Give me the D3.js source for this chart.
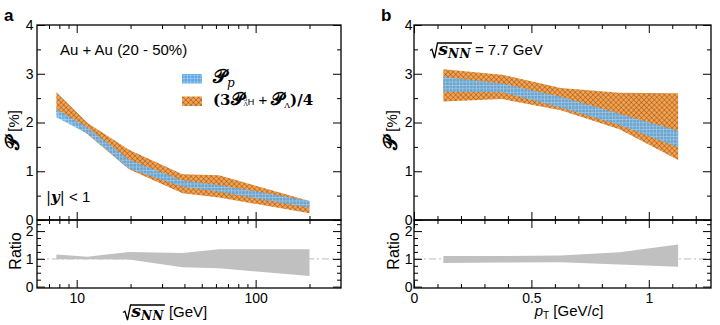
<!DOCTYPE html>
<html>
<head>
<meta charset="utf-8">
<title>Polarization vs energy and pT</title>
<script src="https://cdn.jsdelivr.net/npm/d3@7"></script>
<style>
  body { margin: 0; background: #fff; }
  svg text { font-family: "Liberation Sans", Arial, sans-serif; }
</style>
</head>
<body>
<div id="chart"></div>
<script>
var width = 720, height = 325;

// panel a : vs collision energy (GeV)
var energies  = [7.7, 11.5, 19.6, 39, 62.4, 200];
var protonLoA = [2.11, 1.77, 1.05, 0.68, 0.58, 0.25];
var protonHiA = [2.28, 1.90, 1.24, 0.81, 0.72, 0.39];
var lightLoA  = [2.22, 1.76, 1.04, 0.55, 0.46, 0.14];
var lightHiA  = [2.62, 1.99, 1.44, 0.94, 0.92, 0.39];
var ratioLoA  = [0.99, 0.99, 0.98, 0.70, 0.66, 0.38];
var ratioHiA  = [1.16, 1.08, 1.25, 1.21, 1.35, 1.35];

// panel b : vs pT (GeV/c) at 7.7 GeV
var ptBins    = [0.125, 0.375, 0.625, 0.875, 1.125];
var protonLoB = [2.63, 2.62, 2.31, 1.95, 1.49];
var protonHiB = [2.94, 2.80, 2.53, 2.18, 1.83];
var lightLoB  = [2.43, 2.48, 2.25, 1.86, 1.23];
var lightHiB  = [3.09, 2.98, 2.71, 2.61, 2.60];
var ratioLoB  = [0.85, 0.87, 0.88, 0.80, 0.72];
var ratioHiB  = [1.10, 1.10, 1.12, 1.24, 1.52];

// tick labels
var yTicksTop   = [0, 1, 2, 3, 4];
var yMinorTop   = [0.5, 1.5, 2.5, 3.5];
var yTicksRatio = [0, 1, 2];
var yMinorRatio = [0.25, 0.5, 0.75, 1.25, 1.5, 1.75, 2.25];
var xTicksA     = [10, 100];
var xMinorA     = [7, 8, 9, 20, 30, 40, 50, 60, 70, 80, 90, 200];
var xTicksB     = [0, 0.5, 1];
var xMinorB     = [0.1, 0.2, 0.3, 0.4, 0.6, 0.7, 0.8, 0.9, 1.1, 1.2];

var mathFont = "'DejaVu Serif', 'Liberation Serif', serif";
var sansFont = "'Liberation Sans', Arial, sans-serif";
var top0 = 25, split = 220, bottom0 = 288;

var svg = d3.select("#chart").append("svg")
    .attr("width", width)
    .attr("height", height);

// fill patterns
var defs = svg.append("defs");
var pb = defs.append("pattern")
    .attr("id", "gridBlue")
    .attr("patternUnits", "userSpaceOnUse")
    .attr("width", 3.4).attr("height", 3.4);
pb.append("rect").attr("width", 3.4).attr("height", 3.4).attr("fill", "#5ba7e2");
pb.append("path").attr("d", "M0,0.35H3.4M0.35,0V3.4")
    .attr("stroke", "#a8d2f2").attr("stroke-width", 0.7);

var po = defs.append("pattern")
    .attr("id", "hatchOrange")
    .attr("patternUnits", "userSpaceOnUse")
    .attr("width", 3.6).attr("height", 3.6)
    .attr("patternTransform", "rotate(45)");
po.append("rect").attr("width", 3.6).attr("height", 3.6).attr("fill", "#f8a24c");
po.append("path").attr("d", "M0,0.25H3.6M0.25,0V3.6")
    .attr("stroke", "#5a3416").attr("stroke-width", 0.45);

var yTop = d3.scaleLinear().domain([0, 4]).range([split, top0]);
var yRatio = d3.scaleLinear().domain([-0.05, 2.4]).range([bottom0, split]);

function band(xScale, xs, lo, hi, yScale) {
  return d3.area()
    .x(function(i) { return xScale(xs[i]); })
    .y0(function(i) { return yScale(lo[i]); })
    .y1(function(i) { return yScale(hi[i]); })(d3.range(xs.length));
}

function edge(g, axisFn, scale, vals, len, tx, ty, fmt, pad) {
  var a = axisFn(scale).tickValues(vals).tickSize(-len).tickPadding(pad || 3)
      .tickFormat(fmt ? fmt : "");
  var s = g.append("g").attr("transform", "translate(" + tx + "," + ty + ")").call(a);
  s.select(".domain").remove();
  s.selectAll("line").attr("stroke", "#000").attr("stroke-width", 1);
  s.attr("font-family", null).attr("font-size", null);
  s.selectAll("text").attr("fill", "#000").style("font-size", "14px");
  return s;
}

function drawPanel(p) {
  var g = svg.append("g");
  var x = p.x;
  var x0 = x.range()[0], x1 = x.range()[1];

  // bands
  g.append("path").attr("d", band(x, p.xs, p.lightLo, p.lightHi, yTop))
    .attr("fill", "url(#hatchOrange)");
  g.append("path").attr("d", band(x, p.xs, p.protonLo, p.protonHi, yTop))
    .attr("fill", "url(#gridBlue)").attr("opacity", 0.9);

  g.append("line")
    .attr("x1", x0).attr("x2", x1)
    .attr("y1", yRatio(1)).attr("y2", yRatio(1))
    .attr("stroke", "#c8c8c8").attr("stroke-width", 1.2)
    .attr("stroke-dasharray", "7,3,2,3");
  g.append("path").attr("d", band(x, p.xs, p.ratioLo, p.ratioHi, yRatio))
    .attr("fill", "#c0c0c0");

  var fmtY = d3.format("d");
  // top panel ticks
  edge(g, d3.axisLeft, yTop, yTicksTop, 8, x0, 0, fmtY, p.ypad);
  edge(g, d3.axisLeft, yTop, yMinorTop, 4, x0, 0);
  edge(g, d3.axisRight, yTop, yTicksTop, 8, x1, 0);
  edge(g, d3.axisRight, yTop, yMinorTop, 4, x1, 0);
  edge(g, d3.axisTop, x, p.xMajor, 8, 0, top0);
  edge(g, d3.axisTop, x, p.xMinor, 4, 0, top0);
  edge(g, d3.axisBottom, x, p.xMajor, 8, 0, split);
  edge(g, d3.axisBottom, x, p.xMinor, 4, 0, split);

  // ratio panel ticks
  edge(g, d3.axisLeft, yRatio, yTicksRatio, 8, x0, 0, fmtY, p.ypad);
  edge(g, d3.axisLeft, yRatio, yMinorRatio, 4, x0, 0);
  edge(g, d3.axisRight, yRatio, yTicksRatio, 8, x1, 0);
  edge(g, d3.axisRight, yRatio, yMinorRatio, 4, x1, 0);
  edge(g, d3.axisTop, x, p.xMajor, 8, 0, split);
  edge(g, d3.axisTop, x, p.xMinor, 4, 0, split);
  edge(g, d3.axisBottom, x, p.xMajor, 8, 0, bottom0, p.xfmt, 5);
  edge(g, d3.axisBottom, x, p.xMinor, 4, 0, bottom0);

  // frames
  g.append("rect").attr("x", x0).attr("y", top0)
    .attr("width", x1 - x0).attr("height", split - top0)
    .attr("fill", "none").attr("stroke", "#000").attr("stroke-width", 1.3);
  g.append("rect").attr("x", x0).attr("y", split)
    .attr("width", x1 - x0).attr("height", bottom0 - split)
    .attr("fill", "none").attr("stroke", "#000").attr("stroke-width", 1.3);

  // y titles
  var yt = g.append("text")
    .attr("transform", "translate(" + p.ytx + "," + 130 + ") rotate(-90)")
    .attr("text-anchor", "middle")
    .style("font-size", "15px");
  yt.append("tspan").text("𝒫").style("font-family", mathFont).style("font-weight", "bold").style("font-size", "19px");
  yt.append("tspan").text(" [%]");

  g.append("text")
    .attr("transform", "translate(" + (p.ytx + 2) + "," + 251 + ") rotate(-90)")
    .attr("text-anchor", "middle")
    .style("font-size", "16px")
    .text("Ratio");

  // panel letter
  g.append("text").attr("x", p.letterX).attr("y", 21)
    .style("font-size", "17px").style("font-weight", "bold")
    .text(p.letter);
  return g;
}

// radical sign over s_NN, returns the end x
function sqrtS(parent, x, y, fs) {
  var g = parent.append("g").attr("transform", "translate(" + x + "," + y + ")");
  var t = g.append("text").attr("x", fs * 0.55)
    .style("font-family", mathFont).style("font-weight", "bold").style("font-style", "italic");
  t.append("tspan").text("s").style("font-size", (fs * 1.15) + "px");
  t.append("tspan").text("NN").attr("dy", fs * 0.22)
    .style("font-size", (fs * 0.8) + "px").style("letter-spacing", "0.5px");
  var w = t.node().getComputedTextLength();
  g.append("path")
    .attr("d", "M0," + (-fs * 0.3) + "L" + (fs * 0.13) + "," + (-fs * 0.38) +
      "L" + (fs * 0.3) + "," + (fs * 0.2) + "L" + (fs * 0.5) + "," + (-fs * 0.8) +
      "H" + (fs * 0.55 + w + 1))
    .attr("fill", "none").attr("stroke", "#000").attr("stroke-width", 1.3);
  return x + fs * 0.55 + w;
}

var xA = d3.scaleLog().domain([6, 300]).range([37, 341]);
var xB = d3.scaleLinear().domain([0, 1.265]).range([414, 711]);

drawPanel({
  x: xA, xs: energies,
  protonLo: protonLoA, protonHi: protonHiA,
  lightLo: lightLoA, lightHi: lightHiA,
  ratioLo: ratioLoA, ratioHi: ratioHiA,
  xMajor: xTicksA, xMinor: xMinorA, xfmt: d3.format("d"),
  ypad: 3.5, ytx: 19, letter: "a", letterX: 4
});
drawPanel({
  x: xB, xs: ptBins,
  protonLo: protonLoB, protonHi: protonHiB,
  lightLo: lightLoB, lightHi: lightHiB,
  ratioLo: ratioLoB, ratioHi: ratioHiB,
  xMajor: xTicksB, xMinor: xMinorB, xfmt: d3.format("~g"),
  ypad: 1.5, ytx: 397, letter: "b", letterX: 381
});

// x titles
var endA = sqrtS(svg, 123, 317, 15);
svg.append("text").attr("x", endA + 5).attr("y", 317).style("font-size", "15px").text("[GeV]");

var xtB = svg.append("text").attr("x", 569).attr("y", 316)
  .attr("text-anchor", "middle").style("font-size", "15px");
xtB.append("tspan").text("p").style("font-style", "italic");
xtB.append("tspan").text("T").attr("dy", 3).style("font-size", "10px");
xtB.append("tspan").text(" [GeV/").attr("dy", -3);
xtB.append("tspan").text("c").style("font-style", "italic");
xtB.append("tspan").text("]");

// annotations panel a
svg.append("text").attr("x", 60).attr("y", 55).style("font-size", "15px").text("Au + Au (20 - 50%)");

var yy = svg.append("text").attr("x", 46).attr("y", 202).style("font-size", "15px");
yy.append("tspan").text("|").style("font-family", mathFont);
yy.append("tspan").text("y").style("font-family", mathFont).style("font-weight", "bold").style("font-style", "italic");
yy.append("tspan").text("|").style("font-family", mathFont);
yy.append("tspan").text(" < 1");

// legend
svg.append("rect").attr("x", 182).attr("y", 74).attr("width", 20).attr("height", 9.5)
  .attr("fill", "url(#gridBlue)");
svg.append("rect").attr("x", 182).attr("y", 96.5).attr("width", 20).attr("height", 9.5)
  .attr("fill", "url(#hatchOrange)");

var l1 = svg.append("text").attr("x", 213).attr("y", 83)
  .style("font-family", mathFont).style("font-weight", "bold");
l1.append("tspan").text("𝒫").style("font-size", "19px");
l1.append("tspan").text("p").attr("dy", 4).style("font-size", "12px").style("font-style", "italic").style("font-weight", "normal");

var l2 = svg.append("text").attr("x", 213).attr("y", 105)
  .style("font-family", mathFont).style("font-weight", "bold").style("font-size", "15px");
l2.append("tspan").text("(3");
l2.append("tspan").text("𝒫").style("font-size", "18px");
l2.append("tspan").text("3").attr("dy", -4).style("font-size", "6px").style("font-weight", "normal");
l2.append("tspan").text("Λ").attr("dx", -4).attr("dy", 5).style("font-size", "6px").style("font-weight", "normal");
l2.append("tspan").text("H").attr("dy", -1).style("font-size", "9px").style("font-weight", "normal")
  .style("font-family", sansFont);
l2.append("tspan").text(" + ").style("font-family", sansFont).style("font-weight", "normal");
l2.append("tspan").text("𝒫").style("font-size", "18px");
l2.append("tspan").text("Λ").attr("dy", 3).style("font-size", "8px").style("font-weight", "normal");
l2.append("tspan").text(")/4").attr("dy", -3);

// annotation panel b
var endB = sqrtS(svg, 430, 55, 15);
svg.append("text").attr("x", endB + 4).attr("y", 55).style("font-size", "15px").text("= 7.7 GeV");
</script>
</body>
</html>
